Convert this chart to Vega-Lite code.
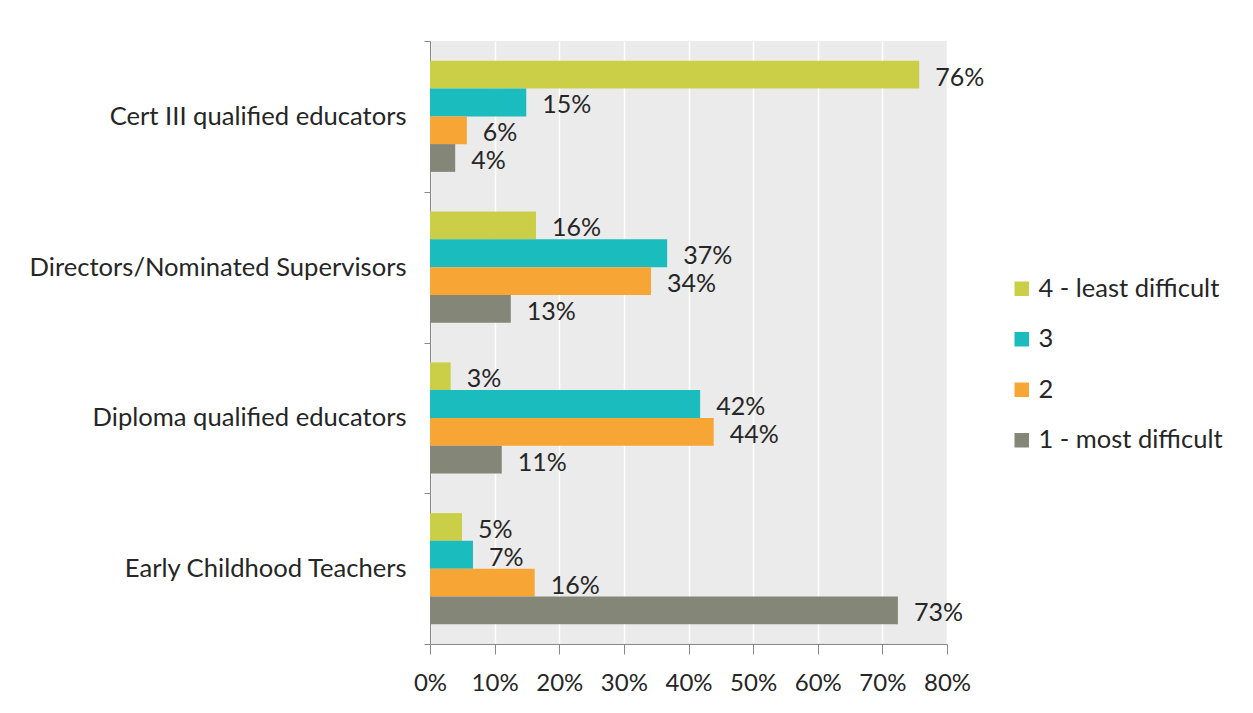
{
  "$schema": "https://vega.github.io/schema/vega-lite/v6.json",
  "width": 517,
  "height": 603,
  "autosize": {"type": "pad"},
  "padding": {"left": 29, "top": 29, "right": 0, "bottom": 0},
  "background": "white",
  "data": {
    "values": [
      {"role": "Cert III qualified educators", "level": "4 - least difficult", "pct": 0.757, "label": "76%"},
      {"role": "Cert III qualified educators", "level": "3", "pct": 0.149, "label": "15%"},
      {"role": "Cert III qualified educators", "level": "2", "pct": 0.057, "label": "6%"},
      {"role": "Cert III qualified educators", "level": "1 - most difficult", "pct": 0.039, "label": "4%"},
      {"role": "Directors/Nominated Supervisors", "level": "4 - least difficult", "pct": 0.164, "label": "16%"},
      {"role": "Directors/Nominated Supervisors", "level": "3", "pct": 0.367, "label": "37%"},
      {"role": "Directors/Nominated Supervisors", "level": "2", "pct": 0.342, "label": "34%"},
      {"role": "Directors/Nominated Supervisors", "level": "1 - most difficult", "pct": 0.125, "label": "13%"},
      {"role": "Diploma qualified educators", "level": "4 - least difficult", "pct": 0.032, "label": "3%"},
      {"role": "Diploma qualified educators", "level": "3", "pct": 0.418, "label": "42%"},
      {"role": "Diploma qualified educators", "level": "2", "pct": 0.439, "label": "44%"},
      {"role": "Diploma qualified educators", "level": "1 - most difficult", "pct": 0.111, "label": "11%"},
      {"role": "Early Childhood Teachers", "level": "4 - least difficult", "pct": 0.0495, "label": "5%"},
      {"role": "Early Childhood Teachers", "level": "3", "pct": 0.0665, "label": "7%"},
      {"role": "Early Childhood Teachers", "level": "2", "pct": 0.162, "label": "16%"},
      {"role": "Early Childhood Teachers", "level": "1 - most difficult", "pct": 0.724, "label": "73%"}
    ]
  },
  "encoding": {
    "y": {
      "field": "role",
      "type": "nominal",
      "sort": ["Cert III qualified educators", "Directors/Nominated Supervisors", "Diploma qualified educators", "Early Childhood Teachers"],
      "scale": {"paddingInner": 0, "paddingOuter": 0},
      "axis": {
        "title": null,
        "labelFont": "Lato",
        "labelFontSize": 25.6,
        "labelColor": "#262626",
        "labelLimit": 0,
        "labelPadding": 18,
        "tickBand": "extent",
        "ticks": true,
        "tickSize": 6,
        "tickColor": "#888888",
        "domainColor": "#888888",
        "grid": false
      }
    },
    "yOffset": {
      "field": "level",
      "type": "nominal",
      "sort": ["4 - least difficult", "3", "2", "1 - most difficult"],
      "scale": {"paddingInner": 0, "paddingOuter": 0.716}
    },
    "x": {
      "field": "pct",
      "type": "quantitative",
      "scale": {"domain": [0, 0.8], "nice": false},
      "axis": {
        "title": null,
        "format": ".0%",
        "values": [0, 0.1, 0.2, 0.3, 0.4, 0.5, 0.6, 0.7, 0.8],
        "grid": true,
        "gridColor": "#ffffff",
        "gridWidth": 1.5,
        "tickSize": 10,
        "tickColor": "#888888",
        "domainColor": "#888888",
        "labelFont": "Lato",
        "labelFontSize": 24,
        "labelColor": "#262626",
        "labelPadding": 17,
        "labelOverlap": false,
        "labelFlush": false
      }
    }
  },
  "layer": [
    {
      "mark": {"type": "bar"},
      "encoding": {
        "color": {
          "field": "level",
          "type": "nominal",
          "scale": {
            "domain": ["4 - least difficult", "3", "2", "1 - most difficult"],
            "range": ["#cbcf47", "#1bbcbd", "#f7a535", "#848677"]
          },
          "legend": {
            "title": null,
            "orient": "none",
            "legendX": 579,
            "legendY": 235,
            "symbolType": "square",
            "symbolSize": 210,
            "symbolStrokeWidth": 0,
            "labelFont": "Lato",
            "labelFontSize": 25.5,
            "labelColor": "#262626",
            "labelLimit": 0,
            "labelOffset": 4,
            "rowPadding": 23.5,
            "padding": 0
          }
        }
      }
    },
    {
      "mark": {"type": "text", "align": "left", "baseline": "middle", "dx": 16, "dy": 3, "font": "Lato", "fontSize": 25, "color": "#262626"},
      "encoding": {"text": {"field": "label", "type": "nominal"}}
    }
  ],
  "config": {"view": {"fill": "#ebebeb", "stroke": null}}
}
